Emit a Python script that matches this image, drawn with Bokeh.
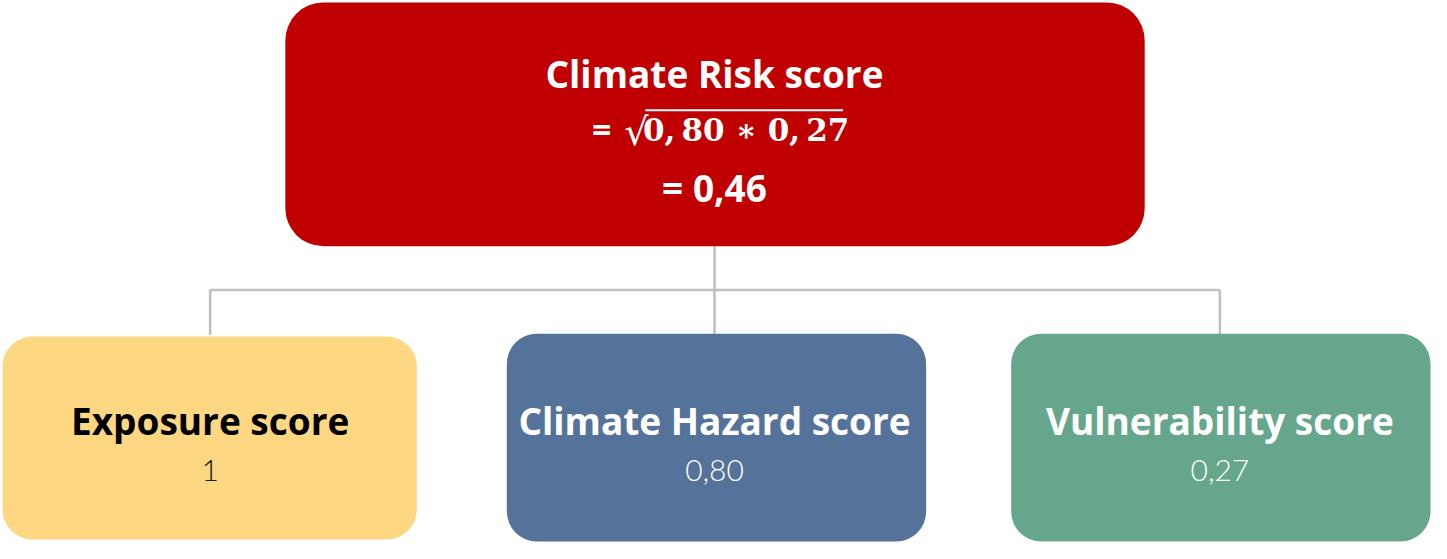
from bokeh.plotting import figure
from bokeh.models import Range1d, ColumnDataSource
from bokeh.core.properties import value
from bokeh.embed import file_html
from bokeh.resources import INLINE

# ---- data ----
top_title = "Climate Risk score"
hazard_score = 0.80
vulnerability_score = 0.27
risk_score = 0.46
child_names = ["Exposure score", "Climate Hazard score", "Vulnerability score"]
child_values = ["1", "0,80", "0,27"]
child_colors = ["#FDD782", "#55739A", "#66A68C"]
child_name_colors = ["#000000", "#FFFFFF", "#FFFFFF"]
child_value_colors = ["#1a1a1a", "#FFFFFF", "#FFFFFF"]

def fmt(v):
    return f"{v:.2f}".replace(".", ",")

# ---- layout (image pixel coordinates) ----
W, H = 1447, 559
p = figure(width=1431, height=543, output_backend="svg", toolbar_location=None,
           x_range=Range1d(0, W), y_range=Range1d(H, 0))
p.axis.visible = False
p.grid.visible = False
p.outline_line_color = None
p.min_border = 0
p.background_fill_color = "white"

# connectors
line_col = "#BFBFBF"
cx = [212, 722, 1233]
p.segment(x0=[722], y0=[253], x1=[722], y1=[298], line_color=line_col, line_width=2.5)
p.segment(x0=[cx[0]], y0=[298], x1=[cx[2]], y1=[298], line_color=line_col, line_width=2.5)
p.segment(x0=cx, y0=[298]*3, x1=cx, y1=[344, 344, 344], line_color=line_col, line_width=2.5)

# top box
p.quad(left=[288], right=[1157], top=[2], bottom=[253], fill_color="#C00000",
       line_color=None, border_radius=38)

# child boxes
boxes = ColumnDataSource(dict(
    left=[2, 512, 1022], right=[421, 936, 1446], top=[346, 343, 343], bottom=[555, 557, 557],
    color=child_colors))
p.quad(left="left", right="right", top="top", bottom="bottom", fill_color="color",
       line_color=None, border_radius=30, source=boxes)

# top texts
font = value("Open Sans")
p.text(x=[722], y=[75], text=[top_title], text_color="white", text_font=font,
       text_font_style="bold", text_font_size="37px", text_align="center", text_baseline="middle")
p.text(x=[608], y=[132], text=["="], text_color="white", text_font=font,
       text_font_style="bold", text_font_size="34px", text_align="center", text_baseline="middle")
p.text(x=[643], y=[135], text=["\u221a"], text_color="white", text_font=value("DejaVu Serif"),
       text_font_size="38px", text_align="center", text_baseline="middle")
p.segment(x0=[652], y0=[113], x1=[852], y1=[113], line_color="white", line_width=1.8)
thin = "\u2009"
p.text(x=[754], y=[133], text=[f"{fmt(hazard_score).replace(',', ','+thin)} \u2217 {fmt(vulnerability_score).replace(',', ','+thin)}"],
       text_color="white", text_font=value("DejaVu Serif"), text_font_style="bold",
       text_font_size="31px", text_align="center", text_baseline="middle")
p.text(x=[722], y=[192], text=[f"= {fmt(risk_score)}"], text_color="white", text_font=font,
       text_font_style="bold", text_font_size="37px", text_align="center", text_baseline="middle")

# child texts
txt = ColumnDataSource(dict(x=cx, name=child_names, val=child_values,
                            nc=child_name_colors, vc=child_value_colors,
                            yn=[432, 432, 432], yv=[484, 484, 484]))
p.text(x="x", y="yn", text="name", text_color="nc", text_font=font, text_font_style="bold",
       text_font_size="37px", text_align="center", text_baseline="middle", source=txt)
p.text(x="x", y="yv", text="val", text_color="vc", text_font=value("Lato Light"),
       text_font_size="30px", text_align="center", text_baseline="middle", source=txt)

open("out.html", "w").write(file_html(p, INLINE))
